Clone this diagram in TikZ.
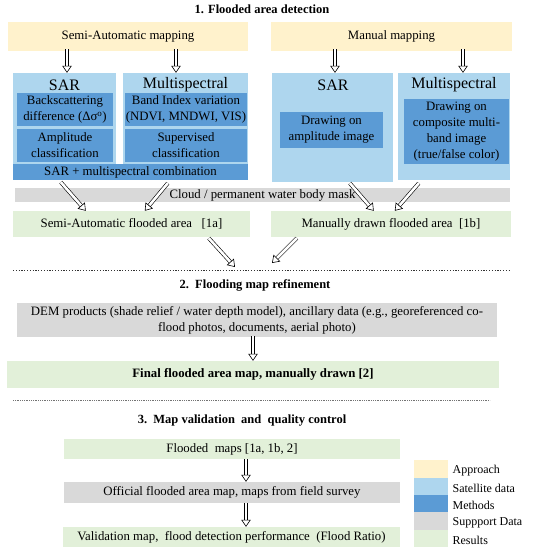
\documentclass[tikz,border=0pt]{standalone}
\usepackage{fontspec}
\setmainfont{Liberation Serif}
\usetikzlibrary{arrows.meta}
\definecolor{approach}{HTML}{FFF2CC}
\definecolor{satdata}{HTML}{AED6EE}
\definecolor{method}{HTML}{5B9BD5}
\definecolor{support}{HTML}{D9D9D9}
\definecolor{result}{HTML}{E2F0D9}

\begin{document}
\begin{tikzpicture}[x=1pt,y=-1pt,
        font=\fontsize{12.8}{16}\selectfont,
        box/.style={inner sep=0pt,align=center},
        appr/.style={box,fill=approach},
        sat/.style={box,fill=satdata},
        meth/.style={box,fill=method},
        supp/.style={box,fill=support},
        res/.style={box,fill=result},
        head/.style={font=\fontsize{16}{18}\selectfont},
        stitle/.style={font=\fontsize{12.5}{15}\selectfont\bfseries},
        hollow/.style={draw=black,line width=0.6pt,double=white,double distance=2.6pt,
            -{Triangle[open,length=7pt,width=9.5pt]}},
        sepA/.style={line width=1pt,dash pattern=on 1.2pt off 1.6pt,black!80},
        sepB/.style={line width=0.5pt,dash pattern=on 0.8pt off 1pt,black!55}]

    \useasboundingbox (0,0) rectangle (535,550);

    % 1. detection
    \node[stitle] (title1) at (262,9) {1. Flooded area detection};
    \node[appr,minimum width=240,minimum height=29] (semi) at (128,36.5) {Semi-Automatic mapping};
    \node[appr,minimum width=241,minimum height=29] (manual) at (391.5,36.5) {Manual mapping};

    \node[sat,minimum width=103,minimum height=97] (sarA) at (64.5,121.5) {};
    \node[sat,minimum width=125,minimum height=97] (msA) at (185.5,121.5) {};
    \node[head] (sarAt) at (64.5,85) {SAR};
    \node[head] (msAt) at (185.5,85) {Multispectral};
    \node[meth,minimum width=96,minimum height=33] (backsc) at (65,109.5) {Backscattering\\difference (Δσ\textsuperscript{o})};
    \node[meth,minimum width=96,minimum height=33] (ampl) at (65,145.5) {Amplitude\\classification};
    \node[meth,minimum width=122,minimum height=33] (band) at (186,109.5) {Band Index variation\\(NDVI, MNDWI, VIS)};
    \node[meth,minimum width=122,minimum height=33] (superv) at (186,145.5) {Supervised\\classification};
    \node[meth,minimum width=235,minimum height=16] (comb) at (130.5,172) {SAR + multispectral combination};

    \node[sat,minimum width=121,minimum height=109] (sarB) at (332.5,127.5) {};
    \node[sat,minimum width=112,minimum height=107] (msB) at (454,126.5) {};
    \node[head] (sarBt) at (333,85) {SAR};
    \node[head] (msBt) at (454,85) {Multispectral};
    \node[meth,minimum width=103,minimum height=36] (drawamp) at (331.5,130) {Drawing on\\amplitude image};
    \node[meth,minimum width=105,minimum height=65] (drawcomp) at (456.5,131.5) {Drawing on\\composite multi-\\band image\\(true/false color)};

    \node[supp,minimum width=495,minimum height=14] (mask) at (262.5,195) {Cloud / permanent water body mask};
    \node[res,minimum width=237,minimum height=26] (res1a) at (131.5,224) {Semi-Automatic flooded area~~~[1a]};
    \node[res,minimum width=240,minimum height=26] (res1b) at (391,224) {Manually drawn flooded area~~[1b]};

    \draw[hollow] ([xshift=2.5pt,yshift=2pt]sarA.north |- semi.south) -- ([xshift=2.5pt]sarA.north);
    \draw[hollow] ([xshift=-9.5pt,yshift=2pt]msA.north |- semi.south) -- ([xshift=-9.5pt]msA.north);
    \draw[hollow] ([xshift=2.5pt,yshift=2pt]sarB.north |- manual.south) -- ([xshift=2.5pt]sarB.north);
    \draw[hollow] ([xshift=9pt,yshift=2pt]msB.north |- manual.south) -- ([xshift=9pt]msB.north);

    \draw[hollow] ([xshift=48pt,yshift=-2pt]comb.south west) -- ([xshift=73pt]res1a.north west);
    \draw[hollow] ([xshift=155pt,yshift=-3pt]comb.south west) -- ([xshift=132pt]res1a.north west);
    \draw[hollow] ([xshift=78pt,yshift=-1pt]sarB.south west) -- ([xshift=103pt]res1b.north west);
    \draw[hollow] ([xshift=21pt,yshift=-3pt]msB.south west) -- ([xshift=124pt]res1b.north west);

    \coordinate (m1) at (235,267);
    \coordinate (m2) at (272,263);
    \draw[hollow] ([xshift=196pt,yshift=-1pt]res1a.south west) -- (m1);
    \draw[hollow] ([xshift=26pt,yshift=-1pt]res1b.south west) -- (m2);

    \draw[sepA] (13,270) -- (510,270);

    % 2. refinement
    \node[stitle] (title2) at (255,285) {2.\enspace Flooding map refinement};
    \node[supp,minimum width=480,minimum height=34] (dem) at (257,320) {DEM products (shade relief / water depth model), ancillary data (e.g., georeferenced co-\\flood photos, documents, aerial photo)};
    \node[res,minimum width=492,minimum height=27,font=\fontsize{12.8}{16}\selectfont\bfseries] (final) at (253,374.5) {Final flooded area map, manually drawn [2]};
    \draw[hollow] ([yshift=1pt]final.north |- dem.south) -- (final.north);

    \draw[sepB] (13,400) -- (490,400);

    % 3. validation
    \node[stitle] (title3) at (242,421) {3.\enspace Map validation~~and~~quality control};
    \node[res,minimum width=336,minimum height=20] (fmaps) at (232,449) {Flooded~~maps [1a, 1b, 2]};
    \node[supp,minimum width=336,minimum height=21] (official) at (232,492.5) {Official flooded area map, maps from field survey};
    \node[res,minimum width=337,minimum height=20] (valid) at (231.5,537) {Validation map,~~flood detection performance~~(Flood Ratio)};
    \draw[hollow] ([xshift=14pt]fmaps.south) -- ([xshift=14pt]official.north);
    \draw[hollow] ([xshift=14pt]official.south) -- ([xshift=14.5pt]valid.north);

    % legend
    \foreach \c/\t [count=\i] in {approach/Approach,satdata/Satellite data,method/Methods,support/Suppport Data,result/Results}{
        \node[box,fill=\c,minimum width=34,minimum height=17.4,anchor=north west] (leg\i) at (414,{460+17.4*(\i-1)}) {};
        \node[anchor=west,inner sep=0pt,font=\fontsize{12}{14}\selectfont] (legt\i) at ([xshift=4pt,yshift=-2pt]leg\i.east) {\t};
    }
\end{tikzpicture}
\end{document}
